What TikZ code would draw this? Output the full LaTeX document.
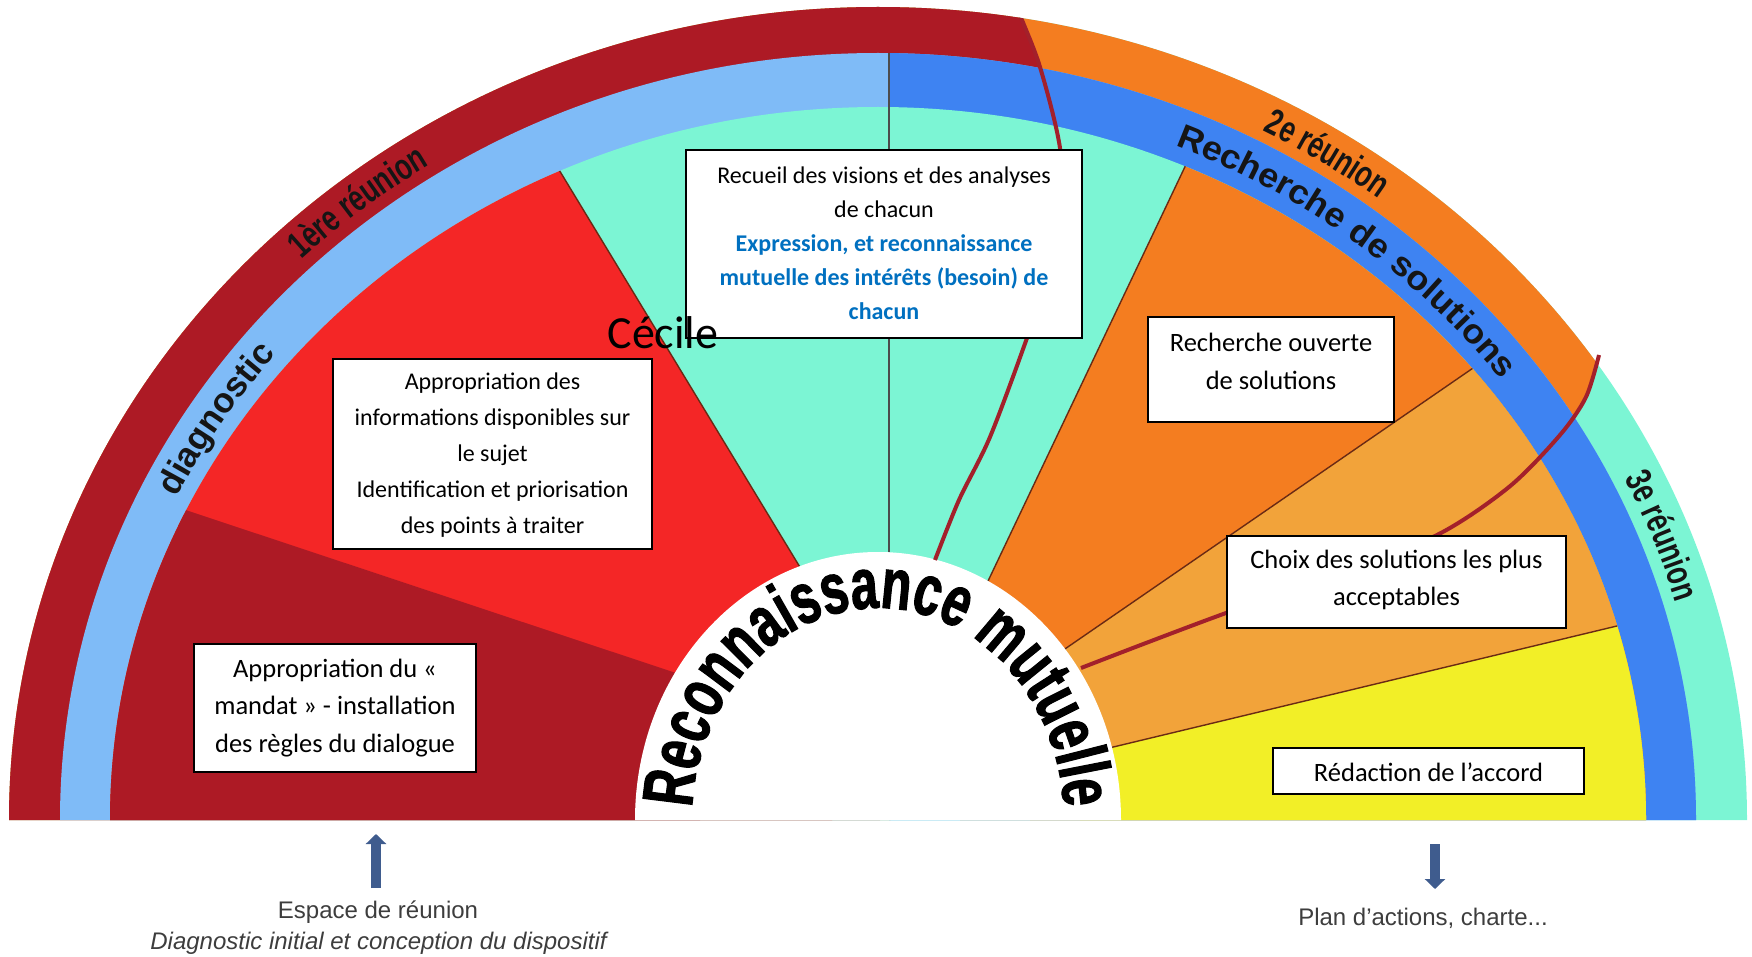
\documentclass[tikz,border=0pt]{standalone}
\usepackage{fontspec}
\setmainfont{Carlito}
\newfontfamily\arialf{Liberation Sans}
\newfontfamily\widef{Liberation Sans}[FakeStretch=1.06]
\newfontfamily\narrowf{Liberation Sans}[FakeStretch=0.72]
\newfontfamily\recf{Liberation Sans}[FakeStretch=0.68,FakeBold=1.5]
\usetikzlibrary{decorations.text,arrows.meta}
\definecolor{cDarkRed}{HTML}{AD1A25}
\definecolor{cRed}{HTML}{F42626}
\definecolor{cTeal}{HTML}{7CF5D4}
\definecolor{cOrange}{HTML}{F47D20}
\definecolor{cLightOrange}{HTML}{F2A33A}
\definecolor{cYellow}{HTML}{F2EF27}
\definecolor{cLightBlue}{HTML}{7FBBF7}
\definecolor{cBlue}{HTML}{3E83F2}
\definecolor{cCurve}{HTML}{A3202B}
\definecolor{cSep}{HTML}{6A2A14}
\definecolor{cArrow}{HTML}{3F5C8E}
\definecolor{cBlueText}{HTML}{0070C0}
\definecolor{cGray}{HTML}{3D3D3D}
\definecolor{cLabel}{HTML}{151515}
\newcommand{\btxt}[1]{\textcolor{cBlueText}{\bfseries #1}}
\begin{document}
\begin{tikzpicture}[x=0.5pt,y=0.5pt,
  box/.style={draw=black,line width=1pt,fill=white,inner sep=0pt,outer sep=0pt},
  boxtext/.style={align=center,inner sep=0pt,font=\fontsize{12}{17}\selectfont},
  boxtextb/.style={align=center,inner sep=0pt,font=\fontsize{12}{18}\selectfont},
  bigtext/.style={align=center,inner sep=0pt,font=\fontsize{13.25}{18.75}\selectfont},
  captext/.style={align=center,inner sep=0pt,text=cGray,font=\arialf\fontsize{12}{14}\selectfont},
  sepline/.style={draw=cSep,line width=0.7pt},
  meetline/.style={draw=cCurve,line width=2pt},
  vline/.style={draw=gray!60!black,line width=0.8pt},
  bigarrow/.style={draw=cArrow,line width=5pt,-{Triangle[width=10pt 0 0,length=5pt 0 0]}},
]
\useasboundingbox (0,0) rectangle (1752,-957);

% ---------- outer band (meetings)
\begin{scope}
  \clip (9,-820) arc[start angle=180,end angle=0,x radius=869,y radius=813] -- cycle;
  \fill[cTeal] (-10,-830) rectangle (1760,10);
  \fill[cOrange] (-10,-830) -- (-10,10) -- (1640,10) -- (1640,-330) --
     plot[smooth] coordinates {(1599,-355) (1586,-397) (1560,-435) (1509,-487) (1437,-535) (1331,-576) (1226,-613) (1146,-643) (1081,-668)}
     -- (878,-830) -- cycle;
  \fill[cDarkRed] (-10,-830) -- (-10,10) -- (1014,10) --
     plot[smooth] coordinates {(1016,-2) (1020,-15) (1040,-67) (1060,-148) (1064,-230) (1027,-338) (990,-437) (959,-500) (935,-560)}
     -- (878,-830) -- cycle;
\end{scope}

% ---------- second band (phases)
\fill[cLightBlue] (60,-820) arc[start angle=180,end angle=0,x radius=818,y radius=767] -- cycle;
\begin{scope}
  \clip (60,-820) arc[start angle=180,end angle=0,x radius=818,y radius=767] -- cycle;
  \fill[cBlue] (889,10) rectangle (1760,-830);
\end{scope}

% ---------- inner sectors
\begin{scope}
  \clip (110,-820) arc[start angle=180,end angle=0,x radius=768,y radius=713] -- cycle;
  \fill[cTeal] (-10,10) rectangle (1760,-830);
  \fill[cRed] (-10,10) -- (450,10) -- (832,-620) -- (832,-830) -- (-10,-830) -- cycle;
  \fill[cDarkRed] (-10,-445) -- (700,-681) -- (700,-830) -- (-10,-830) -- cycle;
  \fill[cOrange] (1269,10) -- (960,-640) -- (960,-830) -- (1800,-830) -- (1800,10) -- cycle;
  \fill[cLightOrange] (1800,-143) -- (1030,-673) -- (1030,-830) -- (1800,-830) -- cycle;
  \fill[cYellow] (1800,-582) -- (1080,-755) -- (1080,-830) -- (1800,-830) -- cycle;
  \draw[sepline] (450,10) -- (832,-620);
  \draw[sepline] (1269,10) -- (960,-640);
  \draw[sepline] (1800,-143) -- (1030,-673);
  \draw[sepline] (1800,-582) -- (1080,-755);
\end{scope}

% ---------- central hole
\fill[white] (635,-820) arc[start angle=180,end angle=0,x radius=243,y radius=268] -- cycle;

% ---------- vertical line and meeting separators
\draw[vline] (889,-53) -- (889,-552);
\begin{scope}
  \clip (9,-820) arc[start angle=180,end angle=0,x radius=869,y radius=813] -- cycle;
  \draw[meetline] plot[smooth] coordinates {(1016,-2) (1020,-15) (1040,-67) (1060,-148) (1064,-230) (1027,-338) (990,-437) (959,-500) (935,-560)};
\end{scope}
\draw[meetline] plot[smooth] coordinates {(1599,-355) (1586,-397) (1560,-435) (1509,-487) (1437,-535) (1331,-576) (1226,-613) (1146,-643) (1081,-668)};

% ---------- curved labels
\path[decorate,decoration={text along path,text align=center,
  text={|\narrowf\bfseries\color{cLabel}\fontsize{18.5}{18.5}\selectfont|1ère réunion}}]
  ([shift={(149:831 and 778)}]878,-820) arc[start angle=149,end angle=108,x radius=831,y radius=778];
\path[decorate,decoration={text along path,text align=center,
  text={|\narrowf\bfseries\color{cLabel}\fontsize{18.5}{18.5}\selectfont|2e réunion}}]
  ([shift={(78:831 and 778)}]878,-820) arc[start angle=78,end angle=37,x radius=831,y radius=778];
\path[decorate,decoration={text along path,text align=center,
  text={|\narrowf\bfseries\color{cLabel}\fontsize{18.5}{18.5}\selectfont|3e réunion}}]
  ([shift={(41:831 and 778)}]878,-820) arc[start angle=41,end angle=1,x radius=831,y radius=778];
\path[decorate,decoration={text along path,text align=center,
  text={|\arialf\bfseries\color{cLabel}\fontsize{17.5}{17.5}\selectfont|diagnostic}}]
  ([shift={(167.2:782 and 729)}]878,-820) arc[start angle=167.2,end angle=127.2,x radius=782,y radius=729];
\path[decorate,decoration={text along path,text align=center,
  text={|\widef\bfseries\color{cLabel}\fontsize{17}{17}\selectfont|Recherche de solutions}}]
  ([shift={(84:782 and 729)}]878,-820) arc[start angle=84,end angle=20,x radius=782,y radius=729];
\path[decorate,decoration={text along path,text align=center,
  text={|\recf\bfseries\fontsize{36}{36}\selectfont|Reconnaissance mutuelle}}]
  ([shift={(186:186 and 212)}]878,-820) arc[start angle=186,end angle=-6,x radius=186,y radius=212];

% ---------- boxes
\node[box,minimum width=198pt,minimum height=94pt] (b1) at (884,-244) {};
\node[boxtext] (t1) at (884,-243) {Recueil des visions et des analyses\\de chacun\\\btxt{Expression, et reconnaissance}\\\btxt{mutuelle des intérêts (besoin) de}\\\btxt{chacun}};

\node[box,minimum width=159.5pt,minimum height=95pt] (b2) at (492.5,-454) {};
\node[boxtextb] (t2) at (492.5,-455) {Appropriation des\\informations disponibles sur\\le sujet\\Identification et priorisation\\des points à traiter};

\node[box,minimum width=141pt,minimum height=64pt] (b3) at (335,-708) {};
\node[bigtext] (t3) at (335,-708) {Appropriation du «\\mandat » - installation\\des règles du dialogue};

\node[box,minimum width=123pt,minimum height=52.5pt] (b4) at (1271,-369.5) {};
\node[bigtext] (t4) at (1271,-361.5) {Recherche ouverte\\de solutions};

\node[box,minimum width=169.5pt,minimum height=46pt] (b5) at (1396.5,-582) {};
\node[bigtext] (t5) at (1396.5,-580) {Choix des solutions les plus\\acceptables};

\node[box,minimum width=155.5pt,minimum height=23pt] (b6) at (1428.5,-771) {};
\node[bigtext] (t6) at (1428.5,-772) {Rédaction de l’accord};

\node[anchor=base,inner sep=0pt,font=\fontsize{23}{23}\selectfont] (cecile) at (663,-349) {Cécile};

% ---------- bottom captions and arrows
\coordinate (upS) at (376,-888);
\coordinate (upE) at (376,-834);
\draw[bigarrow] (upS) -- (upE);
\node[captext] (esp) at (378,-912) {Espace de réunion};
\node[captext,font=\arialf\itshape\fontsize{12}{14}\selectfont] (diag) at (378.5,-943) {Diagnostic initial et conception du dispositif};

\coordinate (dnS) at (1435,-844);
\coordinate (dnE) at (1435,-889);
\draw[bigarrow] (dnS) -- (dnE);
\node[captext] (plan) at (1423,-918) {Plan d’actions, charte...};
\end{tikzpicture}
\end{document}
